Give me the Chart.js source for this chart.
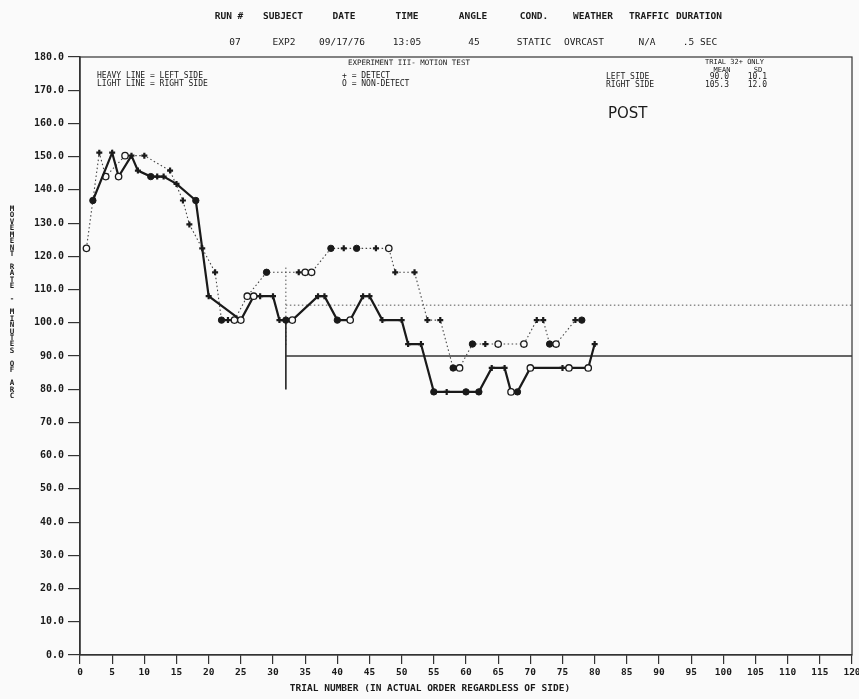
<!DOCTYPE html>
<html>
<head>
<meta charset="utf-8">
<script src="https://cdn.jsdelivr.net/npm/chart.js@4.4.1/dist/chart.umd.min.js"></script>
<style>
  html, body { margin: 0; padding: 0; background: #fafafa; }
  #wrap { width: 859px; height: 699px; }
</style>
</head>
<body>
<div id="wrap"><canvas id="chart" width="859" height="699"></canvas></div>
<script>
// header of the print-out
const headerLabels = ['RUN #', 'SUBJECT', 'DATE', 'TIME', 'ANGLE', 'COND.', 'WEATHER', 'TRAFFIC', 'DURATION'];
const headerValues = ['07', 'EXP2', '09/17/76', '13:05', '45', 'STATIC', 'OVRCAST', 'N/A', '.5 SEC'];

// heavy line = left side
const leftTrials = [2, 5, 6, 8, 9, 11, 12, 13, 15, 18, 19, 20, 25, 27, 28, 30, 31, 32, 33, 37, 38, 40, 42, 44, 45, 47, 50,
                    51, 53, 55, 57, 60, 62, 64, 66, 67, 68, 70, 75, 76, 79, 80];
const leftRate = [136.8, 151.2, 144.0, 150.3, 145.8, 144.0, 144.0, 144.0, 141.8, 136.8, 122.4, 108.0, 100.8, 108.0, 108.0, 108.0, 100.8,
                  100.8, 100.8, 108.0, 108.0, 100.8, 100.8, 108.0, 108.0, 100.8, 100.8,
                  93.6, 93.6, 79.2, 79.2, 79.2, 79.2, 86.4, 86.4, 79.2, 79.2, 86.4, 86.4, 86.4, 86.4, 93.6];
// D = detect (+), N = non-detect (O), B = overstruck dot
const leftMark = ['B', 'D', 'N', 'D', 'D', 'B', 'D', 'D', 'D', 'B', 'D', 'D', 'N', 'N', 'D', 'D', 'D',
                  'B', 'N', 'D', 'D', 'B', 'N', 'D', 'D', 'D', 'D',
                  'D', 'D', 'B', 'D', 'B', 'B', 'D', 'D', 'N', 'B', 'N', 'D', 'N', 'N', 'D'];

// light line = right side
const rightTrials = [1, 3, 4, 7, 10, 14, 16, 17, 21, 22, 23, 24, 26, 29, 34, 35, 36, 39, 41, 43, 46, 48, 49, 52,
                     54, 56, 58, 59, 61, 63, 65, 69, 71, 72, 73, 74, 77, 78];
const rightRate = [122.4, 151.2, 144.0, 150.3, 150.3, 145.8, 136.8, 129.6, 115.2, 100.8, 100.8, 100.8, 108.0, 115.2,
                   115.2, 115.2, 115.2, 122.4, 122.4, 122.4, 122.4, 122.4, 115.2, 115.2,
                   100.8, 100.8, 86.4, 86.4, 93.6, 93.6, 93.6, 93.6, 100.8, 100.8, 93.6, 93.6, 100.8, 100.8];
const rightMark = ['N', 'D', 'N', 'N', 'D', 'D', 'D', 'D', 'D', 'B', 'D', 'N', 'N', 'B',
                   'D', 'N', 'N', 'B', 'D', 'B', 'D', 'N', 'D', 'D',
                   'D', 'D', 'B', 'N', 'B', 'D', 'N', 'N', 'D', 'D', 'B', 'N', 'D', 'B'];

// trial 32+ only: mean, sd
const fromTrial = 32;
const leftStats = [90.0, 10.1];
const rightStats = [105.3, 12.0];

const MONO = '"DejaVu Sans Mono", "Liberation Mono", monospace';
const INK = '#1a1a1a';

function pts(xs, ys) {
    return xs.map((x, i) => ({ x: x, y: ys[i] }));
}

function markerOpts(marks) {
    return {
        pointStyle: ctx => marks[ctx.dataIndex] === 'D' ? 'cross' : 'circle',
        pointRadius: ctx => marks[ctx.dataIndex] === 'D' ? 3 : 3.2,
        pointBorderWidth: ctx => marks[ctx.dataIndex] === 'D' ? 2.2 : (marks[ctx.dataIndex] === 'N' ? 1.3 : 1),
        pointBackgroundColor: ctx => marks[ctx.dataIndex] === 'N' ? '#fafafa' : INK,
        pointBorderColor: INK
    };
}

const paper = {
    id: 'paper',
    beforeDraw(chart) {
        const c = chart.ctx;
        c.save();
        c.fillStyle = '#fafafa';
        c.fillRect(0, 0, chart.width, chart.height);
        c.restore();
    },
    afterDraw(chart) {
        const c = chart.ctx;
        const a = chart.chartArea;
        c.save();
        c.strokeStyle = '#333';
        c.lineWidth = 1.2;
        c.strokeRect(a.left, a.top, a.right - a.left, a.bottom - a.top);

        c.fillStyle = INK;
        c.textBaseline = 'middle';

        // header
        const hx = [229, 283, 344, 407, 473, 534, 593, 649, 699];
        c.textAlign = 'center';
        c.font = 'bold 9.5px ' + MONO;
        headerLabels.forEach((t, i) => c.fillText(t, hx[i], 17));
        const vx = [235, 284, 342, 407, 474, 534, 584, 647, 700];
        c.font = '9.5px ' + MONO;
        headerValues.forEach((t, i) => c.fillText(t, vx[i], 43));

        // texts inside the frame
        c.font = '7.5px ' + MONO;
        c.textAlign = 'left';
        c.fillText('EXPERIMENT III- MOTION TEST', 348, 63);
        c.font = '8px ' + MONO;
        c.fillText('HEAVY LINE = LEFT SIDE', 97, 76);
        c.fillText('LIGHT LINE = RIGHT SIDE', 97, 84);
        c.fillText('+ = DETECT', 342, 76);
        c.fillText('O = NON-DETECT', 342, 84);

        c.font = '7px ' + MONO;
        c.fillText('TRIAL ' + fromTrial + '+ ONLY', 705, 62);
        c.textAlign = 'center';
        c.fillText('MEAN', 722, 70);
        c.fillText('SD', 758, 70);
        c.font = '8px ' + MONO;
        c.textAlign = 'left';
        c.fillText('LEFT SIDE', 606, 77);
        c.fillText('RIGHT SIDE', 606, 85);
        c.textAlign = 'right';
        c.fillText(leftStats[0].toFixed(1), 729, 77);
        c.fillText(rightStats[0].toFixed(1), 729, 85);
        c.fillText(leftStats[1].toFixed(1), 767, 77);
        c.fillText(rightStats[1].toFixed(1), 767, 85);

        c.textAlign = 'left';
        c.font = '15px "DejaVu Sans", sans-serif';
        c.fillText('POST', 608, 114);

        // y title, letters stacked
        c.textAlign = 'center';
        c.font = 'bold 7.5px ' + MONO;
        const yt = 'MOVEMENT RATE - MINUTES OF ARC';
        for (let i = 0; i < yt.length; i++) {
            c.fillText(yt[i], 12, 209 + i * 6.45);
        }

        // x title
        c.font = 'bold 9.5px ' + MONO;
        c.fillText('TRIAL NUMBER (IN ACTUAL ORDER REGARDLESS OF SIDE)', 430, 689);
        c.restore();
    }
};

const ctx = document.getElementById('chart').getContext('2d');
new Chart(ctx, {
    type: 'scatter',
    data: {
        datasets: [
            Object.assign({
                label: 'LEFT SIDE',
                data: pts(leftTrials, leftRate),
                showLine: true,
                borderColor: INK,
                borderWidth: 2.2
            }, markerOpts(leftMark)),
            Object.assign({
                label: 'RIGHT SIDE',
                data: pts(rightTrials, rightRate),
                showLine: true,
                borderColor: '#444',
                borderWidth: 1.1,
                borderDash: [1.5, 2.5]
            }, markerOpts(rightMark)),
            {
                label: 'LEFT MEAN',
                data: [{ x: fromTrial, y: leftStats[0] }, { x: 120, y: leftStats[0] }],
                showLine: true, borderColor: '#333', borderWidth: 1.5, pointRadius: 0
            },
            {
                label: 'RIGHT MEAN',
                data: [{ x: fromTrial, y: rightStats[0] }, { x: 120, y: rightStats[0] }],
                showLine: true, borderColor: '#555', borderWidth: 1, borderDash: [1.5, 2.5], pointRadius: 0
            },
            {
                label: 'LEFT SD',
                data: [{ x: fromTrial, y: leftStats[0] - leftStats[1] }, { x: fromTrial, y: leftStats[0] + leftStats[1] }],
                showLine: true, borderColor: '#222', borderWidth: 1.6, pointRadius: 0
            },
            {
                label: 'RIGHT SD',
                data: [{ x: fromTrial, y: rightStats[0] - rightStats[1] }, { x: fromTrial, y: rightStats[0] + rightStats[1] }],
                showLine: true, borderColor: '#555', borderWidth: 1, borderDash: [1.5, 2.5], pointRadius: 0
            }
        ]
    },
    options: {
        responsive: false,
        animation: false,
        layout: { padding: { top: 57, right: 0, left: 0, bottom: 0 } },
        plugins: {
            legend: { display: false },
            tooltip: { enabled: false }
        },
        scales: {
            x: {
                type: 'linear',
                min: 0,
                max: 120,
                afterFit: s => { s.height = 44; s.paddingRight = 7; },
                ticks: {
                    stepSize: 5,
                    autoSkip: false,
                    maxRotation: 0,
                    padding: 3,
                    color: INK,
                    font: { family: MONO, size: 9.5, weight: 'bold' },
                    callback: v => String(v)
                },
                grid: { drawOnChartArea: false, drawTicks: true, tickLength: 9, color: '#333', lineWidth: 1.2 },
                border: { display: true, color: '#333', width: 1.2 }
            },
            y: {
                min: 0,
                max: 180,
                afterFit: s => { s.width = 80; },
                ticks: {
                    stepSize: 10,
                    padding: 4,
                    color: INK,
                    font: { family: MONO, size: 10, weight: 'bold' },
                    callback: v => v.toFixed(1)
                },
                grid: { drawOnChartArea: false, drawTicks: true, tickLength: 12, color: '#333', lineWidth: 1.2 },
                border: { display: true, color: '#333', width: 1.5 }
            }
        }
    },
    plugins: [paper]
});
</script>
</body>
</html>
